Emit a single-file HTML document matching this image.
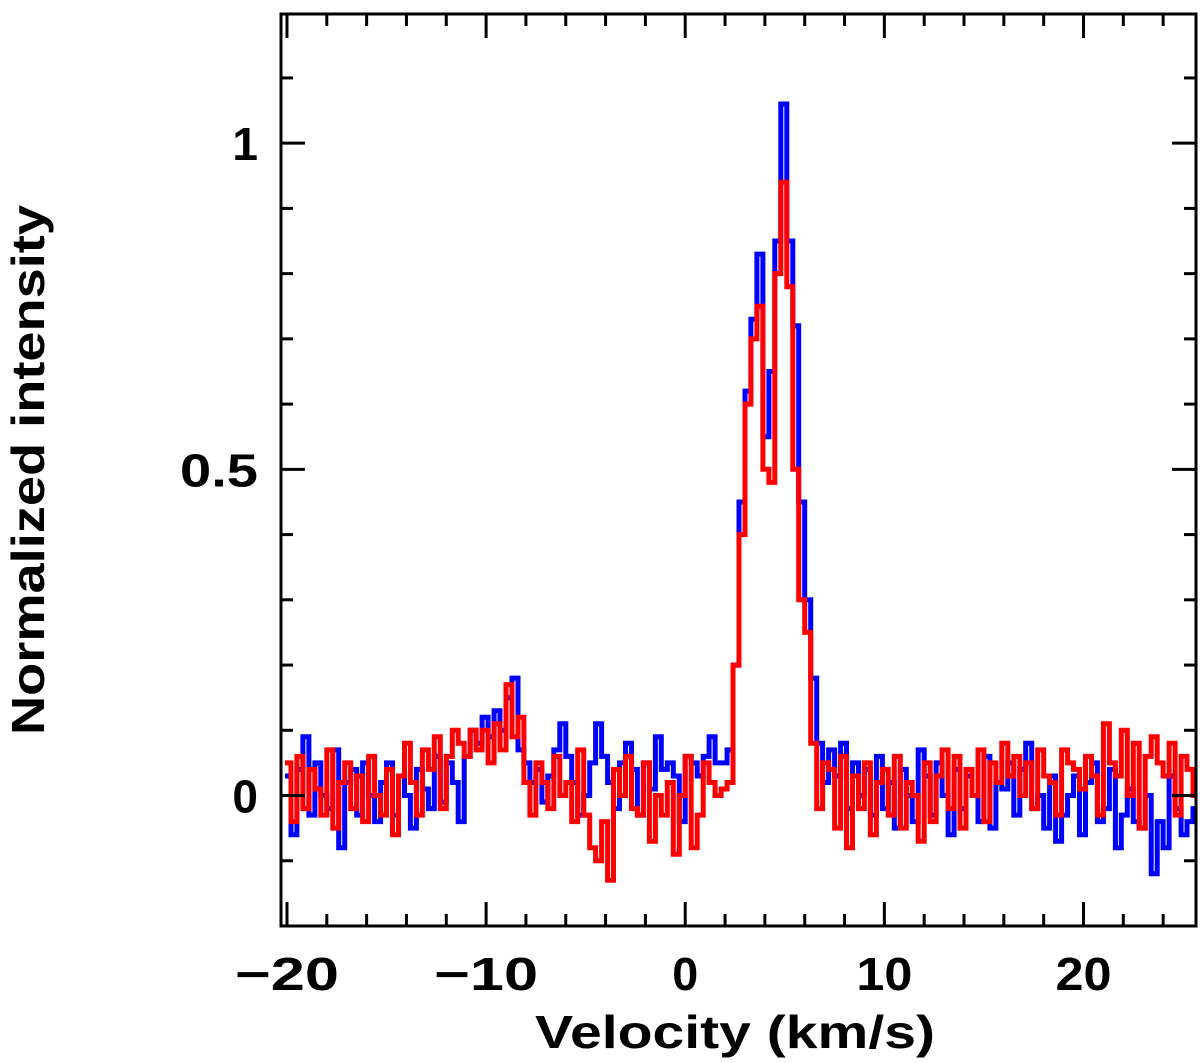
<!DOCTYPE html>
<html><head><meta charset="utf-8"><style>
html,body{margin:0;padding:0;background:#fff;width:1200px;height:1063px;overflow:hidden}
svg text{font-family:"Liberation Sans",sans-serif;font-weight:bold;fill:#000}
</style></head><body>
<svg id="chart" width="1200" height="1063" xmlns="http://www.w3.org/2000/svg">
<defs><clipPath id="clip"><rect x="281" y="14" width="915" height="912"/></clipPath></defs>
<g id="series" clip-path="url(#clip)"></g>
<g id="axes"></g>
<text x="735" y="1048" font-size="46" text-anchor="middle" textLength="400" lengthAdjust="spacingAndGlyphs">Velocity (km/s)</text>
<text x="0" y="0" font-size="46" text-anchor="middle" textLength="530" lengthAdjust="spacingAndGlyphs" transform="translate(44,470) rotate(-90)">Normalized intensity</text>
</svg>
<script>
const vStart = -19.95;
const chanWidth = 0.3;
const blueValues = [0.03,-0.06,0.04,0.09,-0.03,0.05,0.0,-0.02,0.07,-0.08,
0.02,0.04,-0.03,0.05,0.0,-0.04,0.02,0.05,-0.03,0.03,
0.0,-0.05,0.04,0.01,-0.02,0.06,-0.01,0.05,0.02,-0.04,
0.06,0.1,0.08,0.12,0.09,0.13,0.1,0.15,0.18,0.07,
0.05,0.02,0.04,-0.01,0.03,0.07,0.11,0.06,0.02,-0.03,
0.0,0.05,0.11,0.06,0.02,-0.02,0.05,0.08,0.04,-0.03,
0.05,0.01,0.09,0.04,0.05,0.03,-0.04,0.06,0.05,0.03,
0.06,0.09,0.05,0.05,
0.07,0.2,0.45,0.62,0.73,0.83,0.55,0.65,0.85,1.06,0.85,0.72,0.45,0.3,0.18,0.08,0.02,
0.07,0.03,0.08,-0.02,0.05,0.0,0.04,-0.03,0.06,-0.02,
0.02,-0.05,0.04,0.0,-0.04,0.07,0.03,-0.03,0.05,0.0,
-0.06,0.04,-0.02,0.03,0.0,-0.04,0.06,-0.05,0.02,0.01,
0.05,-0.03,0.04,0.08,-0.02,0.0,-0.05,0.03,-0.07,-0.03,
0.0,0.03,-0.06,0.02,0.05,-0.04,-0.02,0.04,-0.08,-0.03,
0.01,-0.04,-0.05,0.0,-0.12,-0.04,-0.08,0.03,-0.02,-0.06,
-0.04,-0.02];
const redValues = [0.05,-0.04,0.06,-0.02,0.04,0.01,-0.03,0.07,-0.05,0.02,
0.05,-0.02,0.03,-0.04,0.06,0.0,-0.03,0.04,-0.06,0.03,
0.08,0.02,-0.03,0.07,0.04,0.09,-0.02,0.06,0.1,0.08,
0.06,0.1,0.07,0.1,0.05,0.11,0.07,0.17,0.09,0.12,
0.02,-0.03,0.05,0.02,-0.02,0.06,0.0,0.02,-0.04,0.07,
-0.03,-0.08,-0.1,-0.04,-0.13,0.04,0.0,0.06,-0.02,-0.03,
0.05,-0.07,0.0,-0.03,0.02,-0.09,0.0,0.06,-0.08,-0.03,
0.05,0.02,0.0,0.01,
0.02,0.2,0.4,0.6,0.7,0.75,0.5,0.48,0.8,0.94,0.78,0.5,0.3,0.25,0.08,-0.02,0.05,
0.04,-0.05,0.06,-0.08,0.03,-0.02,0.05,-0.06,0.02,0.04,
-0.03,0.06,-0.05,0.02,0.0,-0.07,0.05,-0.04,0.03,0.07,
-0.02,0.06,-0.05,0.04,0.0,0.07,-0.04,0.05,0.02,0.08,
0.03,0.06,0.0,0.05,-0.02,0.07,0.03,0.02,-0.03,0.07,
0.05,0.04,0.01,0.06,0.03,-0.03,0.11,0.05,0.03,0.1,
0.0,0.08,-0.05,0.06,0.09,0.05,0.03,0.08,-0.03,0.06,
0.04,0.0];
const xTickLabels = ["\u221220","\u221210","0","10","20"];
const xTickValues = [-20,-10,0,10,20];
const yTickLabels = ["0","0.5","1"];
const yTickValues = [0,0.5,1];

const X0=281,X1=1196,Y0=14,Y1=926;
const xMin=-20.3,xMax=25.65,yMin=-0.2,yMax=1.198;
const xs=v=>X0+(v-xMin)/(xMax-xMin)*(X1-X0);
const ys=v=>Y1-(v-yMin)/(yMax-yMin)*(Y1-Y0);
const NS="http://www.w3.org/2000/svg";
const series=document.getElementById('series');
const axes=document.getElementById('axes');

function stepPath(vals){
  let d="";
  vals.forEach((val,i)=>{
    const c=vStart+i*chanWidth;
    const xa=xs(c-chanWidth/2), xb=xs(c+chanWidth/2), y=ys(val);
    d+=(i===0?"M":"L")+xa.toFixed(1)+","+y.toFixed(1)+"L"+xb.toFixed(1)+","+y.toFixed(1);
  });
  return d;
}
const pb=document.createElementNS(NS,'path');
pb.setAttribute('d',stepPath(blueValues));
pb.setAttribute('fill','none');pb.setAttribute('stroke','#0000ff');pb.setAttribute('stroke-width','5');


series.appendChild(pb);
const pr=document.createElementNS(NS,'path');
pr.setAttribute('d',stepPath(redValues));
pr.setAttribute('fill','none');pr.setAttribute('stroke','#ff0000');pr.setAttribute('stroke-width','5');


series.appendChild(pr);

function line(x1,y1,x2,y2,w){
  const l=document.createElementNS(NS,'line');
  l.setAttribute('x1',x1);l.setAttribute('y1',y1);l.setAttribute('x2',x2);l.setAttribute('y2',y2);
  l.setAttribute('stroke','#000');l.setAttribute('stroke-width',w);
  
  
  axes.appendChild(l);
}
for(let v=-20;v<=24;v+=2){
  const x=xs(v), major=(v%10===0), L=major?24:12;
  line(x,Y1,x,Y1-L,3);line(x,Y0,x,Y0+L,3);
}
for(let k=-2;k<=11;k++){
  const v=k/10, y=ys(v), major=(k%5===0), L=major?24:12;
  line(X0,y,X0+L,y,3);line(X1,y,X1-L,y,3);
}
const fr=document.createElementNS(NS,'rect');
fr.setAttribute('x',X0);fr.setAttribute('y',Y0);fr.setAttribute('width',X1-X0);fr.setAttribute('height',Y1-Y0);
fr.setAttribute('fill','none');fr.setAttribute('stroke','#000');fr.setAttribute('stroke-width','3');


axes.appendChild(fr);
xTickLabels.forEach((s,i)=>{
  const t=document.createElementNS(NS,'text');
  t.setAttribute('x',xs(xTickValues[i]));t.setAttribute('y',990);
  t.setAttribute('font-size','46');t.setAttribute('text-anchor','middle');
  t.setAttribute('textLength', s.length===3?104:(s.length===2?56:26));
  t.setAttribute('lengthAdjust','spacingAndGlyphs');
  t.textContent=s;
  
  
  axes.appendChild(t);
});
yTickLabels.forEach((s,i)=>{
  const t=document.createElementNS(NS,'text');
  t.setAttribute('x',258);t.setAttribute('y',ys(yTickValues[i])+17);
  t.setAttribute('font-size','46');t.setAttribute('text-anchor','end');
  if(s.length===3){t.setAttribute('textLength',78);t.setAttribute('lengthAdjust','spacingAndGlyphs');}
  t.textContent=s;
  
  
  axes.appendChild(t);
});
</script>
</body></html>
